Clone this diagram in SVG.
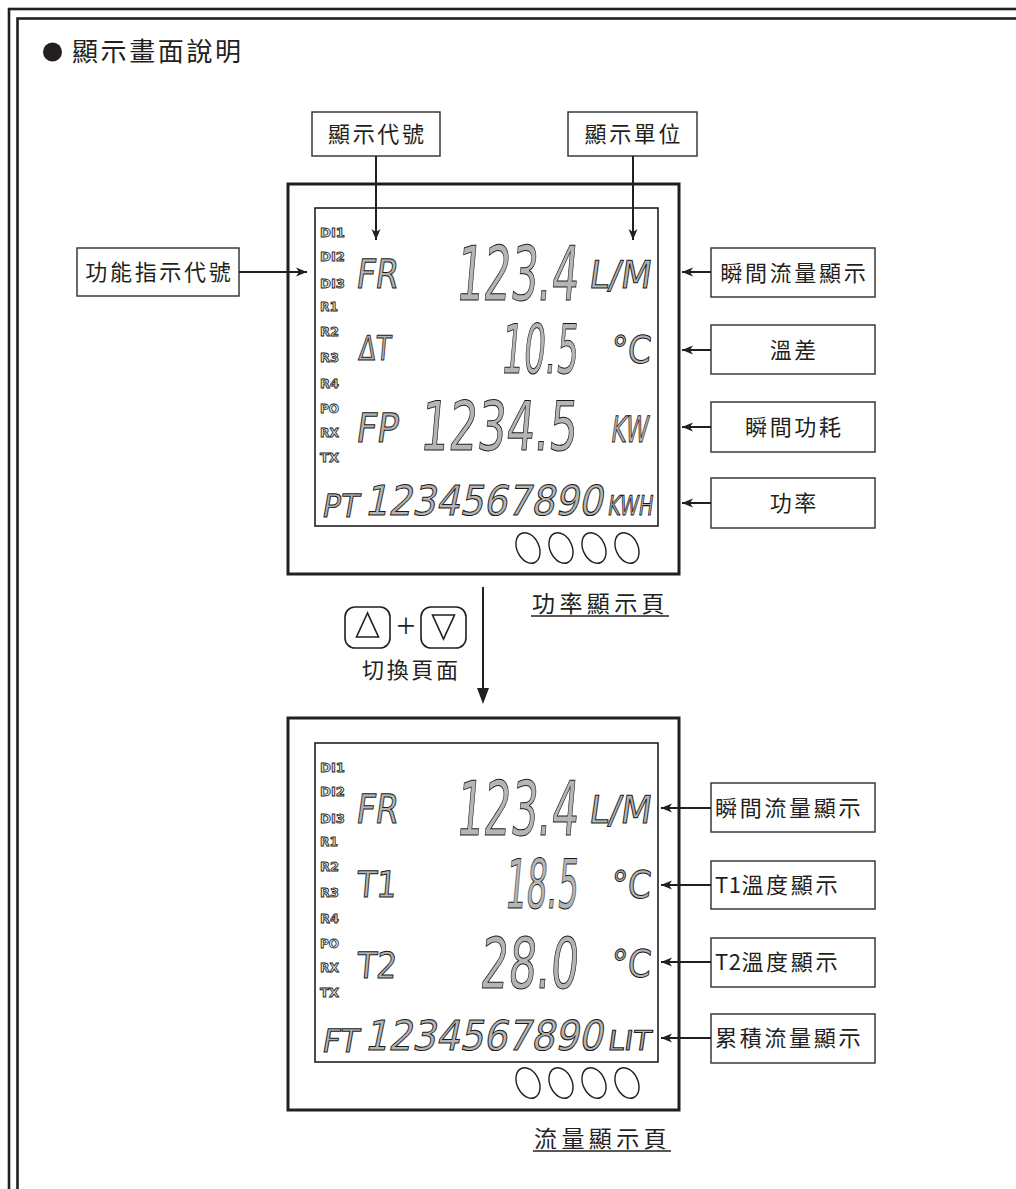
<svg xmlns="http://www.w3.org/2000/svg" width="1016" height="1189" viewBox="0 0 1016 1189">
<style>
.frame{fill:none;stroke:#231f20;stroke-width:2.6}
.outer{fill:#fff;stroke:#231f20;stroke-width:3}
.inner{fill:#fff;stroke:#231f20;stroke-width:1.6}
.box{fill:#fff;stroke:#3a3a3a;stroke-width:1.5}
.lbl{font-family:"Noto Sans CJK TC","Noto Sans CJK SC",sans-serif;font-size:22px;letter-spacing:2.7px;fill:#231f20}
.conn{stroke:#231f20;stroke-width:2;fill:none}
.lcd{font-family:"DejaVu Sans",sans-serif;fill:#b5b5b5;stroke:#1a1a1a;stroke-width:1}
.ind{font-family:"DejaVu Sans",sans-serif;font-weight:bold;font-size:12px;fill:#e6e6e6;stroke:#222;stroke-width:0.8}
.btn{fill:none;stroke:#231f20;stroke-width:1.4}
.key{fill:none;stroke:#231f20;stroke-width:1.6}
.cap{font-family:"Noto Sans CJK TC","Noto Sans CJK SC",sans-serif;font-size:23px;letter-spacing:4.4px;fill:#231f20}
</style>
<defs>
<marker id="ah" markerUnits="userSpaceOnUse" markerWidth="12" markerHeight="10" refX="11" refY="5" orient="auto">
<path d="M0,0.5 L11,5 L0,9.5 L3,5 z" fill="#231f20"/>
</marker>
</defs>
<rect width="1016" height="1189" fill="#fff"/>
<g id="frame">
<rect class="frame" x="9" y="9" width="1040" height="1220"/>
<rect class="frame" x="17.5" y="18.5" width="1030" height="1210"/>
</g>
<g id="title">
<circle cx="52.5" cy="52" r="9.5" fill="#231f20"/>
<text x="72" y="61" style="font-family:'Noto Sans CJK TC','Noto Sans CJK SC',sans-serif;font-size:26px;letter-spacing:2.6px;fill:#231f20">顯示畫面說明</text>
</g>

<g id="display1">
<rect class="outer" x="288" y="184" width="391" height="390"/>
<rect class="inner" x="315" y="208" width="343" height="318"/>
<g class="ind">
<text x="320" y="237" textLength="25" lengthAdjust="spacingAndGlyphs">DI1</text>
<text x="320" y="261" textLength="25" lengthAdjust="spacingAndGlyphs">DI2</text>
<text x="320" y="288" textLength="25" lengthAdjust="spacingAndGlyphs">DI3</text>
<text x="320" y="311" textLength="18" lengthAdjust="spacingAndGlyphs">R1</text>
<text x="320" y="336" textLength="19" lengthAdjust="spacingAndGlyphs">R2</text>
<text x="320" y="362" textLength="19" lengthAdjust="spacingAndGlyphs">R3</text>
<text x="320" y="388" textLength="19" lengthAdjust="spacingAndGlyphs">R4</text>
<text x="320" y="413" textLength="19" lengthAdjust="spacingAndGlyphs">PO</text>
<text x="320" y="437" textLength="19" lengthAdjust="spacingAndGlyphs">RX</text>
<text x="320" y="462" textLength="19" lengthAdjust="spacingAndGlyphs">TX</text>
</g>
<g class="lcd">
<text transform="translate(355,288) skewX(-8)" font-size="40" textLength="42" lengthAdjust="spacingAndGlyphs">FR</text>
<text transform="translate(455,300) skewX(-5)" font-size="75" textLength="122" lengthAdjust="spacingAndGlyphs">123.4</text>
<text transform="translate(588,288) skewX(-8)" font-size="38" textLength="62" lengthAdjust="spacingAndGlyphs">L/M</text>
<text transform="translate(358,360) skewX(-5)" font-size="34" textLength="32" lengthAdjust="spacingAndGlyphs">ΔT</text>
<text transform="translate(500,373) skewX(-5)" font-size="68" textLength="77" lengthAdjust="spacingAndGlyphs">10.5</text>
<text transform="translate(610,363) skewX(-5)" font-size="38" textLength="40" lengthAdjust="spacingAndGlyphs">°C</text>
<text transform="translate(355,442) skewX(-8)" font-size="40" textLength="42" lengthAdjust="spacingAndGlyphs">FP</text>
<text transform="translate(419,450) skewX(-5)" font-size="68" textLength="157" lengthAdjust="spacingAndGlyphs">1234.5</text>
<text transform="translate(610,442) skewX(-8)" font-size="36" textLength="37" lengthAdjust="spacingAndGlyphs">KW</text>
<text transform="translate(321,517) skewX(-10)" font-size="32" textLength="36" lengthAdjust="spacingAndGlyphs">PT</text>
<text transform="translate(364,515) skewX(-12)" font-size="41" textLength="238" lengthAdjust="spacingAndGlyphs">1234567890</text>
<text transform="translate(607,515) skewX(-8)" font-size="27" textLength="45" lengthAdjust="spacingAndGlyphs">KWH</text>
</g>
<g class="btn">
<ellipse cx="528" cy="548" rx="11" ry="16" transform="rotate(-25 528 548)"/>
<ellipse cx="561" cy="548" rx="11" ry="16" transform="rotate(-25 561 548)"/>
<ellipse cx="594" cy="548" rx="11" ry="16" transform="rotate(-25 594 548)"/>
<ellipse cx="627" cy="548" rx="11" ry="16" transform="rotate(-25 627 548)"/>
</g>
</g>
<g id="caption1">
<text class="cap" x="532" y="612">功率顯示頁</text>
<line x1="531" y1="616" x2="669" y2="616" stroke="#231f20" stroke-width="1.6"/>
</g>

<g id="display2">
<rect class="outer" x="288" y="718" width="391" height="392"/>
<rect class="inner" x="315" y="743" width="343" height="319"/>
<g class="ind">
<text x="320" y="772" textLength="25" lengthAdjust="spacingAndGlyphs">DI1</text>
<text x="320" y="796" textLength="25" lengthAdjust="spacingAndGlyphs">DI2</text>
<text x="320" y="823" textLength="25" lengthAdjust="spacingAndGlyphs">DI3</text>
<text x="320" y="846" textLength="18" lengthAdjust="spacingAndGlyphs">R1</text>
<text x="320" y="871" textLength="19" lengthAdjust="spacingAndGlyphs">R2</text>
<text x="320" y="897" textLength="19" lengthAdjust="spacingAndGlyphs">R3</text>
<text x="320" y="923" textLength="19" lengthAdjust="spacingAndGlyphs">R4</text>
<text x="320" y="948" textLength="19" lengthAdjust="spacingAndGlyphs">PO</text>
<text x="320" y="972" textLength="19" lengthAdjust="spacingAndGlyphs">RX</text>
<text x="320" y="997" textLength="19" lengthAdjust="spacingAndGlyphs">TX</text>
</g>
<g class="lcd">
<text transform="translate(355,823) skewX(-8)" font-size="40" textLength="42" lengthAdjust="spacingAndGlyphs">FR</text>
<text transform="translate(455,835) skewX(-5)" font-size="75" textLength="122" lengthAdjust="spacingAndGlyphs">123.4</text>
<text transform="translate(588,823) skewX(-8)" font-size="38" textLength="62" lengthAdjust="spacingAndGlyphs">L/M</text>
<text transform="translate(356,897) skewX(-5)" font-size="36" textLength="40" lengthAdjust="spacingAndGlyphs">T1</text>
<text transform="translate(504,908) skewX(-5)" font-size="68" textLength="73" lengthAdjust="spacingAndGlyphs">18.5</text>
<text transform="translate(610,898) skewX(-5)" font-size="38" textLength="40" lengthAdjust="spacingAndGlyphs">°C</text>
<text transform="translate(356,978) skewX(-5)" font-size="36" textLength="40" lengthAdjust="spacingAndGlyphs">T2</text>
<text transform="translate(479,988) skewX(-5)" font-size="70" textLength="98" lengthAdjust="spacingAndGlyphs">28.0</text>
<text transform="translate(610,977) skewX(-5)" font-size="38" textLength="40" lengthAdjust="spacingAndGlyphs">°C</text>
<text transform="translate(321,1052) skewX(-10)" font-size="32" textLength="36" lengthAdjust="spacingAndGlyphs">FT</text>
<text transform="translate(364,1050) skewX(-12)" font-size="41" textLength="238" lengthAdjust="spacingAndGlyphs">1234567890</text>
<text transform="translate(607,1050) skewX(-8)" font-size="27" textLength="43" lengthAdjust="spacingAndGlyphs">LIT</text>
</g>
<g class="btn">
<ellipse cx="528" cy="1083" rx="11" ry="16" transform="rotate(-25 528 1083)"/>
<ellipse cx="561" cy="1083" rx="11" ry="16" transform="rotate(-25 561 1083)"/>
<ellipse cx="594" cy="1083" rx="11" ry="16" transform="rotate(-25 594 1083)"/>
<ellipse cx="627" cy="1083" rx="11" ry="16" transform="rotate(-25 627 1083)"/>
</g>
</g>
<g id="caption2">
<text class="cap" x="534" y="1147">流量顯示頁</text>
<line x1="533" y1="1151" x2="671" y2="1151" stroke="#231f20" stroke-width="1.6"/>
</g>

<g id="label-code">
<rect class="box" x="312" y="112" width="128" height="44"/>
<text class="lbl" x="377.35" y="142" text-anchor="middle">顯示代號</text>
</g>
<g id="label-unit">
<rect class="box" x="568" y="112" width="129" height="44"/>
<text class="lbl" x="633.85" y="142" text-anchor="middle">顯示單位</text>
</g>
<g id="label-func">
<rect class="box" x="77" y="248" width="162" height="48"/>
<text class="lbl" x="159.35" y="280" text-anchor="middle">功能指示代號</text>
</g>
<g id="label-r1">
<rect class="box" x="711" y="248" width="164" height="49"/>
<text class="lbl" x="794.35" y="281" text-anchor="middle">瞬間流量顯示</text>
</g>
<g id="label-r2">
<rect class="box" x="711" y="325" width="164" height="49"/>
<text class="lbl" x="794.35" y="358" text-anchor="middle">溫差</text>
</g>
<g id="label-r3">
<rect class="box" x="711" y="402" width="164" height="50"/>
<text class="lbl" x="794.35" y="435" text-anchor="middle">瞬間功耗</text>
</g>
<g id="label-r4">
<rect class="box" x="711" y="478" width="164" height="50"/>
<text class="lbl" x="794.35" y="511" text-anchor="middle">功率</text>
</g>
<g id="label-s1">
<rect class="box" x="711" y="783" width="164" height="49"/>
<text class="lbl" x="715" y="816">瞬間流量顯示</text>
</g>
<g id="label-s2">
<rect class="box" x="711" y="861" width="164" height="48"/>
<text class="lbl" x="715" y="893"><tspan style="letter-spacing:0.5px">T1</tspan>溫度顯示</text>
</g>
<g id="label-s3">
<rect class="box" x="711" y="938" width="164" height="49"/>
<text class="lbl" x="715" y="970"><tspan style="letter-spacing:0.5px">T2</tspan>溫度顯示</text>
</g>
<g id="label-s4">
<rect class="box" x="711" y="1014" width="164" height="49"/>
<text class="lbl" x="715" y="1046">累積流量顯示</text>
</g>

<g id="switch">
<rect class="key" x="345" y="607" width="45" height="41" rx="10"/>
<polygon class="key" points="367.5,613 356.5,637 378.5,637"/>
<text x="406" y="638" text-anchor="middle" style="font-family:'Noto Sans',sans-serif;font-size:34px;font-weight:300;fill:#231f20">+</text>
<rect class="key" x="421" y="607" width="45" height="41" rx="10"/>
<polygon class="key" points="432.5,615 454.5,615 443.5,639"/>
<text class="lbl" x="411.35" y="678" text-anchor="middle">切換頁面</text>
</g>

<g id="connectors">
<line class="conn" x1="376" y1="156" x2="376" y2="240" marker-end="url(#ah)"/>
<line class="conn" x1="633" y1="156" x2="633" y2="240" marker-end="url(#ah)"/>
<line class="conn" x1="239" y1="272" x2="307" y2="272" marker-end="url(#ah)"/>
<line class="conn" x1="711" y1="272" x2="682" y2="272" marker-end="url(#ah)"/>
<line class="conn" x1="711" y1="350" x2="682" y2="350" marker-end="url(#ah)"/>
<line class="conn" x1="711" y1="427" x2="682" y2="427" marker-end="url(#ah)"/>
<line class="conn" x1="711" y1="503" x2="682" y2="503" marker-end="url(#ah)"/>
<line class="conn" x1="711" y1="808" x2="661" y2="808" marker-end="url(#ah)"/>
<line class="conn" x1="711" y1="885" x2="661" y2="885" marker-end="url(#ah)"/>
<line class="conn" x1="711" y1="962" x2="661" y2="962" marker-end="url(#ah)"/>
<line class="conn" x1="711" y1="1038" x2="661" y2="1038" marker-end="url(#ah)"/>
<line class="conn" x1="483" y1="587" x2="483" y2="690"/>
<polygon points="477,688 489,688 483,704" fill="#231f20"/>
</g>
</svg>
